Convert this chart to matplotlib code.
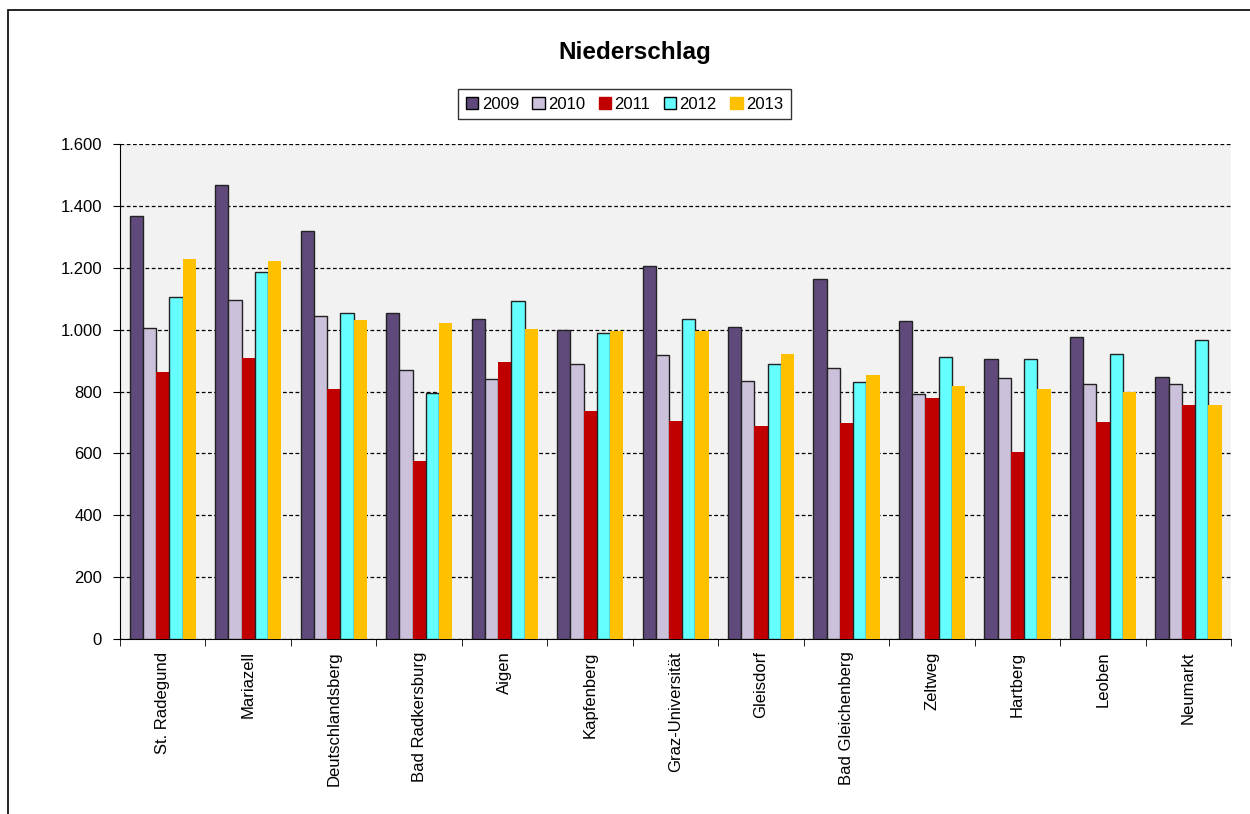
import numpy as np
import matplotlib
matplotlib.use("Agg")
import matplotlib.pyplot as plt
from matplotlib.patches import Patch, Rectangle
from matplotlib.ticker import FuncFormatter, MultipleLocator

plt.rcParams["font.family"] = ["Liberation Sans", "DejaVu Sans"]

# Daten
stationen = ["St. Radegund", "Mariazell", "Deutschlandsberg", "Bad Radkersburg", "Aigen",
             "Kapfenberg", "Graz-Universität", "Gleisdorf", "Bad Gleichenberg", "Zeltweg",
             "Hartberg", "Leoben", "Neumarkt"]
jahre = ["2009", "2010", "2011", "2012", "2013"]
n2009 = [1367, 1467, 1318, 1055, 1034, 999, 1206, 1010, 1164, 1027, 906, 976, 848]
n2010 = [1004, 1096, 1043, 869, 840, 890, 919, 835, 877, 793, 845, 823, 823]
n2011 = [862, 907, 808, 575, 895, 738, 704, 688, 697, 779, 604, 700, 755]
n2012 = [1105, 1188, 1055, 794, 1093, 989, 1035, 890, 831, 911, 906, 922, 965]
n2013 = [1228, 1223, 1032, 1020, 1003, 996, 996, 920, 853, 817, 808, 799, 755]

farben = ["#604a7b", "#ccc1da", "#c00000", "#66ffff", "#ffc000"]
mit_rand = [True, True, False, True, False]

fig = plt.figure(figsize=(12.5, 8.14), dpi=100)
ax = fig.add_axes([0.096, 0.215, 0.889, 0.608])
ax.set_facecolor("#f2f2f2")

x = np.arange(len(stationen))
breite = 0.155
for i, werte in enumerate([n2009, n2010, n2011, n2012, n2013]):
    pos = x + (i - 2) * breite
    if mit_rand[i]:
        ax.bar(pos, werte, breite, color=farben[i], edgecolor="#222222", linewidth=1.0, zorder=3)
    else:
        ax.bar(pos, werte, breite, color=farben[i], linewidth=0, zorder=3)

ax.set_xlim(-0.5, len(stationen) - 0.5)
ax.set_ylim(0, 1600)
ax.yaxis.set_major_locator(MultipleLocator(200))
ax.yaxis.set_major_formatter(FuncFormatter(lambda v, p: f"{int(v):,}".replace(",", ".")))
ax.grid(axis="y", color="black", linestyle=(0, (3, 2)), linewidth=0.9, zorder=1)

ax.set_xticks(x)
ax.set_xticklabels(stationen, rotation=90, fontsize=12)
ax.set_xticks(np.arange(-0.5, len(stationen)), minor=True)
ax.tick_params(axis="x", which="major", length=0, pad=9)
ax.tick_params(axis="x", which="minor", length=5, direction="out", color="black")
ax.tick_params(axis="y", labelsize=12, length=5, direction="out", pad=8, colors="black")

for s in ["top", "right"]:
    ax.spines[s].set_visible(False)
ax.spines["left"].set_color("black")
ax.spines["bottom"].set_color("black")

fig.text(0.508, 0.935, "Niederschlag", ha="center", va="center", fontsize=17.5, fontweight="bold")

handles = [Patch(facecolor=farben[i], edgecolor="black" if mit_rand[i] else farben[i],
                 linewidth=1.0) for i in range(5)]
leg = fig.legend(handles, jahre, loc="center", bbox_to_anchor=(0.4996, 0.872), ncol=5,
                 fontsize=12, frameon=True, fancybox=False, handlelength=0.75, handleheight=0.75,
                 handletextpad=0.2, columnspacing=0.8, borderpad=0.45)
leg.get_frame().set_edgecolor("black")
leg.get_frame().set_linewidth(1.0)

# äußerer Rahmen
fig.patches.append(Rectangle((8 / 1250, -0.2), 1.2, 1.2 - 10 / 814, transform=fig.transFigure,
                             fill=False, edgecolor="black", linewidth=1.2))

fig.savefig("out.png", dpi=100)
